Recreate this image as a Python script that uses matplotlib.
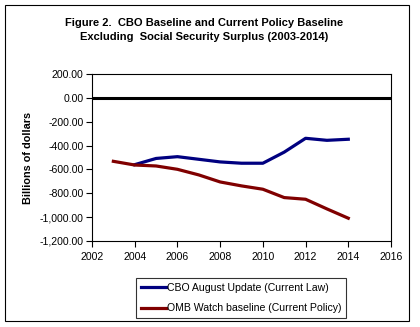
import matplotlib
matplotlib.use('Agg')
import matplotlib.pyplot as plt
from matplotlib.patches import Rectangle

# data
years_cbo = [2004, 2005, 2006, 2007, 2008, 2009, 2010, 2011, 2012, 2013, 2014]
cbo = [-560, -508, -493, -515, -537, -548, -548, -455, -339, -356, -347]
years_omb = [2003, 2004, 2005, 2006, 2007, 2008, 2009, 2010, 2011, 2012, 2013, 2014]
omb = [-532, -563, -571, -599, -646, -705, -738, -766, -836, -850, -931, -1009]

yticks = [200, 0, -200, -400, -600, -800, -1000, -1200]
xticks = [2002, 2004, 2006, 2008, 2010, 2012, 2014, 2016]

plt.rcParams['font.family'] = 'Liberation Sans'

fig = plt.figure(figsize=(4.2, 3.27), dpi=100)
fig.patches.append(Rectangle((5 / 420, 1 - 321 / 327), 404 / 420, 316 / 327,
                             transform=fig.transFigure, fill=False,
                             edgecolor='black', linewidth=0.8))

ax = fig.add_axes([92 / 420, 86 / 327, 299 / 420, 167 / 327])
ax.axhline(0, color='black', linewidth=2.2, zorder=2)
ax.plot(years_cbo, cbo, color='#000080', linewidth=2.3,
        label='CBO August Update (Current Law)', zorder=3)
ax.plot(years_omb, omb, color='#800000', linewidth=2.3,
        label='OMB Watch baseline (Current Policy)', zorder=4)

ax.set_xlim(2002, 2016)
ax.set_ylim(-1200, 200)
ax.set_xticks(xticks)
ax.set_yticks(yticks)
ax.set_yticklabels(['{:,.2f}'.format(v) for v in yticks])
ax.tick_params(direction='out', length=4, width=0.8, labelsize=7.6, pad=2)
ax.tick_params(axis='x', pad=4)
for s in ax.spines.values():
    s.set_linewidth(0.8)

ax.set_ylabel('Billions of dollars', fontsize=7.8, fontweight='bold', labelpad=5)

fig.text(0.485, 1 - 29.5 / 327, 'Figure 2.  CBO Baseline and Current Policy Baseline\n'
         'Excluding  Social Security Surplus (2003-2014)',
         ha='center', va='center', fontsize=8, fontweight='bold', linespacing=1.5)

leg = fig.legend(loc='center', bbox_to_anchor=(241 / 420, 1 - 298 / 327),
                 fontsize=7.6, frameon=True, fancybox=False, edgecolor='black',
                 handlelength=2.4, handletextpad=0.1, borderpad=0.45,
                 labelspacing=1.0)
leg.get_frame().set_linewidth(0.8)

fig.savefig('out.png', dpi=100)
